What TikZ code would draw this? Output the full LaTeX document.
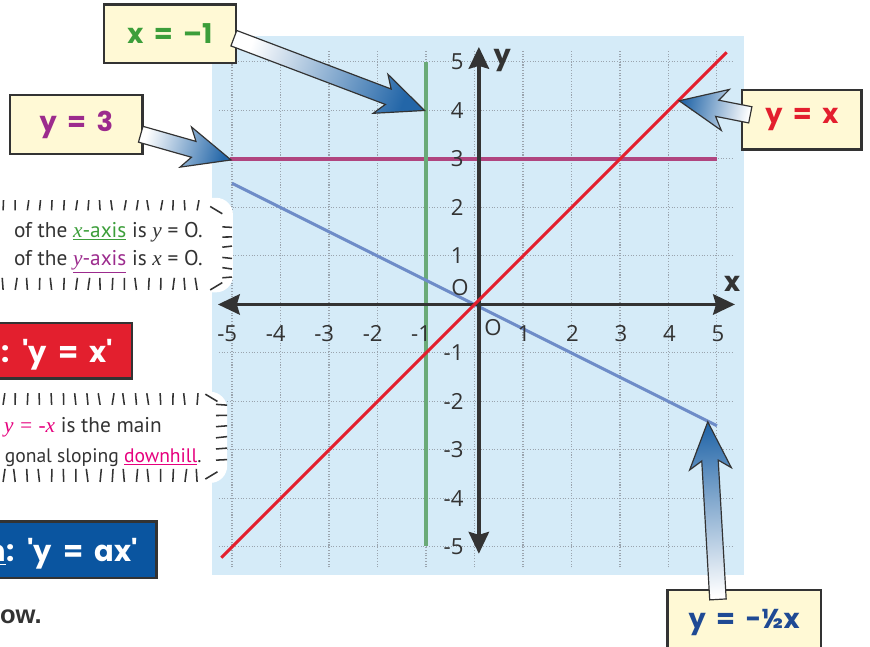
\documentclass[tikz,border=0pt]{standalone}
\usepackage{fontspec}
\setmainfont{Open Sans}
\newfontfamily\labfont{Poppins}[WordSpace=1.8]
\newfontfamily\varfont{Liberation Serif}
\newfontfamily\handfont{PT Sans}
\newfontfamily\headfont{Liberation Sans}
\usetikzlibrary{calc,arrows.meta}
\usepackage{xcolor}

\definecolor{bgblue}{HTML}{D5EBF8}
\definecolor{noteyellow}{HTML}{FFF9D5}
\definecolor{eqgreen}{HTML}{3C9E3A}
\definecolor{eqpurple}{HTML}{9C2B8D}
\definecolor{eqred}{HTML}{E31F2E}
\definecolor{eqnavy}{HTML}{1F4A94}
\definecolor{arblue}{HTML}{2366A8}
\definecolor{gridgray}{HTML}{9AA4AE}
\definecolor{inkgray}{HTML}{333333}
\definecolor{linegreen}{HTML}{6AAA78}
\definecolor{linepurple}{HTML}{B0457F}
\definecolor{lineblue}{HTML}{6E8CC8}
\definecolor{notepink}{HTML}{E6007E}
\definecolor{bannerblue}{HTML}{0A55A0}

% fat shaded arrow from a tail coordinate to a tip coordinate
\newcommand\fatarrow[2]{%
  \pgfmathanglebetweenpoints{\pgfpointanchor{#1}{center}}{\pgfpointanchor{#2}{center}}%
  \pgfmathsetmacro\faang{\pgfmathresult+90}%
  \coordinate (fa-n) at ($(#2)!0.8cm!(#1)$);
  \coordinate (fa-h) at ($(#2)!0.97cm!(#1)$);
  \shade[fatarrow, shading angle=\faang]
    ($(#1)!0.17cm!90:(#2)$) -- ($(fa-n)!0.17cm!90:(#2)$) -- ($(fa-h)!0.43cm!90:(#2)$)
    -- (#2) -- ($(fa-h)!0.43cm!-90:(#2)$) -- ($(fa-n)!0.17cm!-90:(#2)$)
    -- ($(#1)!0.17cm!-90:(#2)$) -- cycle;
}

\begin{document}
\begin{tikzpicture}[
  every node/.style={inner sep=0pt},
  tick/.style={font=\fontsize{13}{15}\selectfont, text=inkgray},
  axlab/.style={font=\labfont\bfseries\fontsize{16}{18}\selectfont, text=inkgray},
  eqbox/.style={draw=inkgray, line width=1.6pt, fill=noteyellow, minimum height=1.2cm,
    font=\labfont\bfseries\fontsize{16}{18}\selectfont},
  fatarrow/.style={draw=inkgray, line width=0.7pt, left color=white, right color=arblue},
  stroke/.style={inkgray, line width=0.9pt},
  banner/.style={draw=inkgray, line width=1.6pt},
  bannertext/.style={text=white, font=\labfont\bfseries\fontsize{17}{19}\selectfont},
  notetext/.style={text=inkgray, font=\handfont\fontsize{12.5}{14}\selectfont},
  axisarrow/.style={inkgray, line width=2pt,
    {Stealth[length=4.5mm,width=4.2mm,inset=0.6mm]}-{Stealth[length=4.5mm,width=4.2mm,inset=0.6mm]}}
]
\useasboundingbox (-9.784,-7.062) rectangle (8.155,6.278);
\clip (-9.784,-7.062) rectangle (8.155,6.278);
\pgfmathsetseed{7}

% graph paper
\fill[bgblue] (-5.41,-5.58) rectangle (5.56,5.54);
\foreach \i in {-5,...,5} {
  \draw[gridgray, densely dotted, line width=0.6pt] (\i,-5.42) -- (\i,5.25);
  \draw[gridgray, densely dotted, line width=0.6pt] (-5.27,\i) -- (5.33,\i);
}

% the lines
\draw[linepurple, line width=1.8pt] (-5.05,3) -- (5,3);
\draw[linegreen, line width=1.8pt] (-1,-4.98) -- (-1,5);
\draw[lineblue, line width=1.8pt] (-5,2.5) -- (5,-2.5);

% axes
\draw[axisarrow] (-5.29,0) -- (5.37,0);
\draw[axisarrow] (0.09,-5.14) -- (0.09,5.31);
\draw[eqred, line width=1.7pt] (-5.22,-5.22) -- (5.2,5.2);

% numbers on the axes
\foreach \i in {1,...,5} {
  \node[tick] (xp\i) at (\i+0.02,-0.6) {\i};
  \node[tick] (xn\i) at (-\i-0.1,-0.6) {-\i};
  \node[tick, anchor=east] (yp\i) at (-0.22,\i) {\i};
  \node[tick, anchor=east] (yn\i) at (-0.22,-\i) {-\i};
}
\node[tick] (xo) at (0.38,-0.48) {O};
\node[tick] (yo) at (-0.3,0.34) {O};
\node[axlab] (ylab) at (0.57,5.02) {y};
\node[axlab] (xlab) at (5.31,0.42) {x};

% note boxes on the left
\fill[white, rounded corners=0.35cm] (-10.5,0.25) rectangle (-4.98,2.2);
\foreach \x in {-9.72,-9.47,...,-5.5} {
  \draw[stroke] (\x,1.94) -- ++({0.04*rand},0.21);
  \draw[stroke] (\x,0.3) -- ++({0.04*rand},0.25);
}
\foreach \y in {0.55,0.76,...,1.8} \draw[stroke] (-5.2,\y) -- ++(0.2,{0.03*rand});
\draw[stroke] (-5.45,2.02) -- ++(0.25,-0.15);
\draw[stroke] (-5.45,0.3) -- ++(0.25,0.15);
\node[notetext, anchor=base east] (n1a) at (-5.6,1.39)
  {of the \textcolor{eqgreen}{\underline{{\varfont\itshape x}-axis}} is {\varfont\itshape y} = O.};
\node[notetext, anchor=base east] (n1b) at (-5.6,0.81)
  {of the \textcolor{eqpurple}{\underline{{\varfont\itshape y}-axis}} is {\varfont\itshape x} = O.};

\draw[banner, fill=eqred] (-10.2,-1.52) rectangle (-7.06,-0.38);
\node[bannertext, anchor=base east] (yxrule) at (-7.45,-1.19) {: \textquotesingle y = x\textquotesingle};

\fill[white, rounded corners=0.35cm] (-10.5,-3.68) rectangle (-5.1,-1.8);
\foreach \x in {-9.72,-9.47,...,-5.6} {
  \draw[stroke] (\x,-2.07) -- ++({0.04*rand},0.24);
  \draw[stroke] (\x,-3.66) -- ++({0.04*rand},0.27);
}
\foreach \y in {-3.21,-2.98,...,-2.0} \draw[stroke] (-5.33,\y) -- ++(0.23,{0.03*rand});
\draw[stroke] (-5.55,-1.85) -- ++(0.25,-0.15);
\draw[stroke] (-5.55,-3.6) -- ++(0.25,0.15);
\node[notetext, anchor=base east] (n2a) at (-6.44,-2.63)
  {\textcolor{notepink}{{\varfont\itshape y = -x}} is the main};
\node[notetext, font=\handfont\fontsize{11.5}{13}\selectfont, anchor=base east] (n2b) at (-5.62,-3.25)
  {gonal sloping \textcolor{notepink}{\underline{downhill}}.};

\draw[banner, fill=bannerblue] (-10.2,-5.64) rectangle (-6.55,-4.48);
\node[bannertext, anchor=base east] (yaxrule) at (-6.94,-5.31) {\underline{n}: \textquotesingle y = ax\textquotesingle};

\node[anchor=base west, text=inkgray, font=\headfont\bfseries\fontsize{15}{17}\selectfont] (owtxt) at (-9.79,-6.57) {ow.};

% equation labels
\node[eqbox, minimum width=2.72cm, text=eqgreen] (xm1) at (-6.28,5.58) {x = –1};
\node[eqbox, minimum width=2.74cm, minimum height=1.22cm, text=eqpurple] (y3) at (-8.21,3.71) {y = 3};
\node[eqbox, minimum width=2.47cm, minimum height=1.22cm, text=eqred] (yx) at (6.75,3.81) {y = x};
\node[eqbox, minimum width=3.17cm, minimum height=1.32cm, text=eqnavy] (yhalf) at (5.56,-6.55) {y = -½x};

% arrows from labels to lines
\coordinate (xm1-tail) at ([xshift=-2pt,yshift=-0.09cm]xm1.east);
\coordinate (xm1-tip) at (-1.03,4.0);
\coordinate (y3-tail) at ([xshift=-2pt,yshift=-0.2cm]y3.east);
\coordinate (y3-tip) at (-5.02,2.98);
\coordinate (yx-tail) at ([xshift=0.2cm,yshift=0.1cm]yx.west);
\coordinate (yx-tip) at (4.22,4.2);
\coordinate (yhalf-tail) at ([xshift=-0.54cm,yshift=-0.22cm]yhalf.north);
\coordinate (yhalf-tip) at (4.81,-2.42);
\fatarrow{xm1-tail}{xm1-tip}
\fatarrow{y3-tail}{y3-tip}
\fatarrow{yx-tail}{yx-tip}
\fatarrow{yhalf-tail}{yhalf-tip}
\end{tikzpicture}
\end{document}
